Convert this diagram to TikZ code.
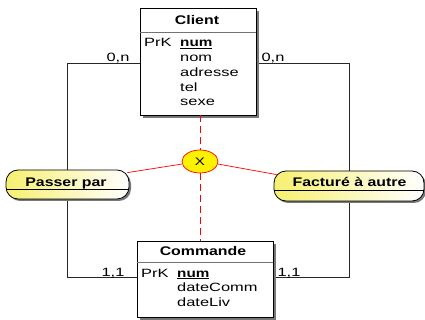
\documentclass[tikz,border=0pt]{standalone}
\usepackage{fontspec}
\usetikzlibrary{shapes.geometric,shadows}
\newfontfamily\attrfont[FakeStretch=1.37]{Liberation Sans}
\newfontfamily\titlefont[FakeStretch=1.27]{Liberation Sans}
\definecolor{relyellow}{RGB}{246,240,112}
\definecolor{shadowgray}{RGB}{120,120,120}
\tikzset{
  entity/.style={draw=black, line width=0.8pt, fill=white, inner sep=0pt,
    drop shadow={shadow xshift=3pt, shadow yshift=-3pt, fill=shadowgray, opacity=1}},
  titlesep/.style={draw=black!55, line width=1.4pt},
  relbox/.style={draw=black, line width=0.8pt, rounded corners=12pt,
    left color=relyellow, right color=white, inner sep=0pt,
    drop shadow={shadow xshift=2pt, shadow yshift=-2pt, fill=shadowgray, opacity=1}},
  relsep/.style={draw=black, line width=0.7pt},
  titletext/.style={font=\titlefont\fontsize{12.5}{14}\selectfont\bfseries, anchor=base, inner sep=0pt},
  attrtext/.style={font=\attrfont\fontsize{12}{14}\selectfont, anchor=base west, inner sep=0pt},
  cardtext/.style={font=\attrfont\fontsize{12}{14}\selectfont, anchor=base, inner sep=0pt},
  keytext/.style={font=\titlefont\fontsize{12}{14}\selectfont\bfseries, anchor=base west, inner sep=0pt},
  link/.style={draw=black!85, line width=0.8pt},
  redlink/.style={draw=red, line width=0.7pt},
  reddash/.style={draw=red, line width=0.8pt, dash pattern=on 7pt off 4pt},
  xornode/.style={ellipse, draw=red, line width=0.7pt, fill=yellow, inner sep=0pt,
    minimum width=36pt, minimum height=23pt,
    font=\attrfont\fontsize{11}{12}\selectfont},
}
\begin{document}
\begin{tikzpicture}[x=1pt,y=-1pt]
\useasboundingbox (0,0) rectangle (425,320);

% invisible placeholders used as end points for the cardinality links
\path (198,61.5) node[minimum width=116pt, minimum height=107pt, inner sep=0pt] (clientpos) {};
\path (205,279) node[minimum width=136pt, minimum height=76pt, inner sep=0pt] (commandepos) {};
\path (67.5,184.5) node[minimum width=123pt, minimum height=29pt, inner sep=0pt] (passerpos) {};
\path (349,186) node[minimum width=150pt, minimum height=30pt, inner sep=0pt] (facturepos) {};

% cardinality links (drawn first, they pass behind the associations)
\draw[link] ([yshift=-1.5pt]clientpos.west) -| (passerpos.north);
\draw[link] (passerpos.south) |- ([yshift=2pt]commandepos.west);
\draw[link] ([yshift=-1.5pt]clientpos.east) -| (facturepos.north);
\draw[link] (facturepos.south) |- ([yshift=2pt]commandepos.east);

% entity Client
\node[entity, minimum width=116pt, minimum height=107pt] (client) at (clientpos) {};
\draw[titlesep] ([yshift=-25pt]client.north west) -- ([yshift=-25pt]client.north east);
\node[titletext] (clienttitle) at (197,25) {Client};
\node[attrtext] (clientprk) at (144,47) {PrK};
\node[keytext] (clientnum) at (180,47) {\underline{num}};
\foreach \t [count=\i] in {nom,adresse,tel,sexe}
  \node[attrtext] (clientattr\i) at (180,{47+14.75*\i}) {\t};

% entity Commande
\node[entity, minimum width=136pt, minimum height=76pt] (commande) at (commandepos) {};
\draw[titlesep] ([yshift=-22pt]commande.north west) -- ([yshift=-22pt]commande.north east);
\node[titletext] (commandetitle) at (203,255) {Commande};
\node[attrtext] (commandeprk) at (141,277) {PrK};
\node[keytext] (commandenum) at (177,277) {\underline{num}};
\foreach \t [count=\i] in {dateComm,dateLiv}
  \node[attrtext] (commandeattr\i) at (177,{277+14.75*\i}) {\t};

% cardinalities
\node[cardtext] (card1) at (118,62) {0,n};
\node[cardtext] (card2) at (273,62) {0,n};
\node[cardtext] (card3) at (113,276) {1,1};
\node[cardtext] (card4) at (289,276) {1,1};

% exclusion constraint
\node[xornode] (xor) at (200,161.5) {X};
\draw[reddash] (xor.north |- client.south) -- (xor.north);
\draw[reddash] (xor.south) -- (xor.south |- commande.north);

% associations
\node[relbox, minimum width=123pt, minimum height=29pt] (passer) at (passerpos) {};
\draw[relsep] ([yshift=-4.5pt]passer.west) -- ([yshift=-4.5pt]passer.east);
\node[titletext] (passerlbl) at (66,187) {Passer par};

\node[relbox, minimum width=150pt, minimum height=30pt] (facture) at (facturepos) {};
\draw[relsep] ([yshift=-4pt]facture.west) -- ([yshift=-4pt]facture.east);
\node[titletext] (facturelbl) at (349.5,187) {Facturé à autre};

% links of the constraint to the associations
\draw[redlink] ([xshift=-2pt,yshift=-3pt]passer.north east) -- (xor.188);
\draw[redlink] (xor.352) -- ([xshift=3pt,yshift=-4pt]facture.north west);
\end{tikzpicture}
\end{document}
